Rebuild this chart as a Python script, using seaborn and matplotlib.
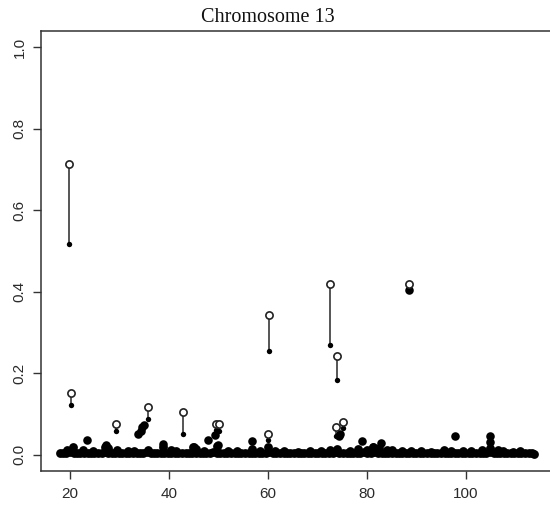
import matplotlib
matplotlib.use("Agg")
import matplotlib.pyplot as plt
import seaborn as sns
import pandas as pd

# ---- data ----
base_x = [18.0, 18.6, 19.3, 20.1, 20.8, 21.4, 22.1, 22.9, 23.6, 24.2,
          24.9, 25.7, 26.4, 27.1, 27.7, 28.5, 29.2, 29.9, 30.6, 31.3,
          32.0, 32.8, 33.5, 34.1, 34.8, 35.6, 36.3, 37.0, 37.6, 38.4,
          39.1, 39.8, 40.5, 41.2, 41.9, 42.7, 43.4, 44.0, 44.7, 45.5,
          46.2, 46.9, 47.5, 48.3, 49.0, 49.7, 50.4, 51.1, 51.8, 52.6,
          53.3, 53.9, 54.6, 55.4, 56.1, 56.8, 57.4, 58.2, 58.9, 59.6,
          60.3, 61.0, 61.7, 62.5, 63.2, 63.8, 64.5, 65.3, 66.0, 66.7,
          67.3, 68.1, 68.8, 69.5, 70.2, 70.9, 71.6, 72.4, 73.1, 73.7,
          74.4, 75.2, 75.9, 76.6, 77.2, 78.0, 78.7, 79.4, 80.1, 80.8,
          81.5, 82.3, 83.0, 83.6, 84.3, 85.1, 85.8, 86.5, 87.1, 87.9,
          88.6, 89.3, 90.0, 90.7, 91.4, 92.2, 92.9, 93.5, 94.2, 95.0,
          95.7, 96.4, 97.0, 97.8, 98.5, 99.2, 99.9, 100.6, 101.3, 102.1,
          102.8, 103.4, 104.1, 104.9, 105.6, 106.3, 106.9, 107.7, 108.4, 109.1,
          109.8, 110.5, 111.2, 112.0, 112.7, 113.3, 113.8]
base_y = [.004, .003, .005, .006, .004, .003, .004, .003, .005, .003,
          .004, .003, .005, .006, .004, .003, .005, .004, .003, .004,
          .003, .005, .004, .003, .004, .006, .003, .004, .003, .005,
          .004, .003, .005, .004, .003, .004, .005, .003, .004, .005,
          .003, .004, .005, .004, .006, .005, .004, .003, .004, .003,
          .004, .003, .004, .003, .005, .004, .003, .004, .003, .005,
          .006, .004, .003, .004, .003, .004, .003, .004, .003, .004,
          .003, .004, .003, .004, .005, .003, .004, .005, .004, .006,
          .005, .004, .003, .004, .003, .005, .004, .006, .005, .004,
          .006, .005, .004, .005, .004, .005, .003, .004, .003, .004,
          .003, .004, .003, .004, .005, .003, .004, .003, .004, .005,
          .004, .003, .004, .005, .003, .004, .003, .004, .003, .005,
          .004, .005, .004, .006, .005, .004, .005, .003, .004, .003,
          .004, .003, .004, .003, .004, .003, .002]

bump_x = [19.5, 20.7, 22.6, 24.6, 27.0, 27.8, 29.6, 31.8, 33.0, 35.8,
          38.8, 40.4, 41.5, 44.8, 45.5, 47.0, 49.8, 52.0, 53.8, 56.7,
          58.5, 60.0, 61.5, 63.2, 66.0, 68.5, 70.8, 72.5, 74.0, 76.5,
          78.3, 80.0, 81.2, 82.5, 84.0, 85.0, 87.0, 89.0, 91.0, 93.0,
          95.5, 97.0, 99.5, 101.0, 103.2, 104.8, 106.5, 107.5, 109.5, 111.0]
bump_y = [0.012, 0.018, 0.012, 0.010, 0.020, 0.016, 0.012, 0.010, 0.009, 0.012,
          0.020, 0.012, 0.010, 0.020, 0.014, 0.009, 0.022, 0.008, 0.009, 0.014,
          0.008, 0.020, 0.010, 0.008, 0.007, 0.008, 0.010, 0.012, 0.014, 0.010,
          0.014, 0.012, 0.018, 0.016, 0.012, 0.012, 0.008, 0.008, 0.010, 0.007,
          0.012, 0.010, 0.008, 0.010, 0.012, 0.015, 0.012, 0.010, 0.007, 0.008]

hit_x = [23.4, 27.3, 33.7, 34.3, 34.6, 35.0, 38.9, 45.0, 47.9, 49.3, 49.9,
         56.8, 74.3, 74.6, 79.1, 81.3, 82.8, 88.5, 97.9, 104.8, 104.8, 104.8]
hit_y = [0.035, 0.024, 0.051, 0.057, 0.068, 0.074, 0.026, 0.020, 0.037, 0.049, 0.025,
         0.034, 0.045, 0.052, 0.033, 0.020, 0.029, 0.405, 0.045, 0.045, 0.030, 0.017]

pair_x = [19.9, 20.3, 29.4, 35.7, 42.8, 49.5, 50.1, 60.2, 60.0,
          72.5, 73.9, 73.7, 75.2, 88.5]
pair_lo = [0.516, 0.123, 0.057, 0.088, 0.052, 0.061, 0.058, 0.254, 0.037,
           0.269, 0.183, 0.047, 0.066, 0.405]
pair_hi = [0.713, 0.152, 0.076, 0.116, 0.106, 0.076, 0.076, 0.342, 0.052,
           0.420, 0.243, 0.067, 0.080, 0.420]

x_ticks = [20, 40, 60, 80, 100]
y_ticks = [0.0, 0.2, 0.4, 0.6, 0.8, 1.0]
y_ticklabels = ["0.0", "0.2", "0.4", "0.6", "0.8", "1.0"]
title = "Chromosome 13"

# ---- figure ----
sns.set_style("white")
plt.rcParams["font.family"] = ["Liberation Sans", "DejaVu Sans"]

fig = plt.figure(figsize=(5.5, 5.16), dpi=100)
ax = fig.add_axes([41 / 550, 45 / 516, 512 / 550, 440 / 516])

base_df = pd.DataFrame({"x": base_x + bump_x, "y": base_y + bump_y})
hit_df = pd.DataFrame({"x": hit_x, "y": hit_y})
pair_df = pd.DataFrame({"x": pair_x, "lo": pair_lo, "hi": pair_hi})

ax.vlines(pair_df["x"], pair_df["lo"], pair_df["hi"], color="#555555",
          linewidth=1.4, zorder=1)
sns.scatterplot(data=base_df, x="x", y="y", ax=ax, color="black", s=40,
                linewidth=0, zorder=2, legend=False)
sns.scatterplot(data=hit_df, x="x", y="y", ax=ax, color="black", s=38,
                linewidth=0, zorder=3, legend=False)
sns.scatterplot(data=pair_df, x="x", y="lo", ax=ax, color="black", s=15,
                linewidth=0, zorder=4, legend=False)
sns.scatterplot(data=pair_df, x="x", y="hi", ax=ax, facecolor="white",
                edgecolor="#222222", s=27, linewidth=1.2, zorder=5, legend=False)

ax.set_xlim(14.17, 117.6)
ax.set_ylim(-0.04, 1.04)
ax.set_xlabel("")
ax.set_ylabel("")
ax.set_xticks(x_ticks)
ax.set_xticklabels([str(t) for t in x_ticks])
ax.set_yticks(y_ticks)
ax.set_yticklabels(y_ticklabels, rotation=90, va="center")

for sp in ax.spines.values():
    sp.set_visible(True)
    sp.set_color("#333333")
    sp.set_linewidth(1.1)

ax.tick_params(axis="both", which="major", direction="out", length=5.5,
               width=1.0, color="#333333", labelsize=11, labelcolor="#2a2a2a",
               bottom=True, left=True, top=False, right=False)
ax.tick_params(axis="x", pad=6)
ax.tick_params(axis="y", pad=5)

fig.text(268 / 550, 1 - 17 / 516, title, ha="center", va="center",
         fontsize=14.5, family=["Liberation Serif", "DejaVu Serif"],
         color="#111111")

fig.savefig("out.png", dpi=100, facecolor="white")
